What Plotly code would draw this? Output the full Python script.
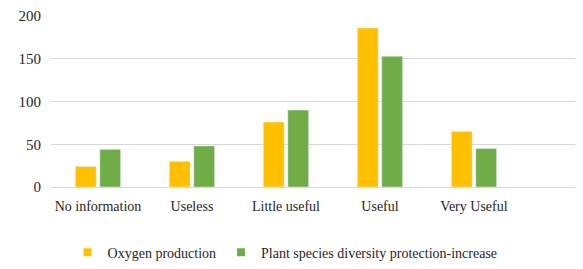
import plotly.graph_objects as go

categories = ["No information", "Useless", "Little useful", "Useful", "Very Useful"]
oxygen = [24, 30, 76, 186, 65]
plant = [44, 48, 90, 153, 45]
series_names = ["Oxygen production", "Plant species diversity protection-increase"]
colors = ["#FFC000", "#70AD47"]

FONT = "Liberation Serif"
TXT = "#262626"

fig = go.Figure()
fig.add_trace(go.Bar(x=categories, y=oxygen, name=series_names[0], marker_color=colors[0], showlegend=False))
fig.add_trace(go.Bar(x=categories, y=plant, name=series_names[1], marker_color=colors[1], showlegend=False))
# legend proxies (small square swatches)
for name, c in zip(series_names, colors):
    fig.add_trace(go.Scatter(x=[None], y=[None], mode="markers", name=name,
                             marker=dict(symbol="square", size=8, color=c)))

fig.update_layout(
    width=575, height=261,
    margin=dict(l=43, r=0, t=8, b=79),
    paper_bgcolor="white", plot_bgcolor="white",
    font=dict(family=FONT, size=14, color=TXT),
    barmode="group", bargap=0.48, bargroupgap=0.15,
    legend=dict(orientation="h", x=0.44, xanchor="center", y=-0.29, yanchor="top",
                font=dict(family=FONT, size=14, color=TXT), itemwidth=30,
                traceorder="normal", tracegroupgap=0),
    showlegend=True,
)
fig.update_yaxes(range=[0, 200], dtick=50, showgrid=True, gridcolor="#D9D9D9", gridwidth=1,
                 zeroline=False, ticks="", ticklabelstandoff=9,
                 tickfont=dict(family=FONT, size=15, color=TXT))
fig.update_xaxes(range=[-0.5, 5.16], showline=True, linecolor="#D9D9D9", linewidth=1,
                 ticks="", tickfont=dict(family=FONT, size=14, color=TXT), ticklabelstandoff=6)

fig.write_html("out.html")
